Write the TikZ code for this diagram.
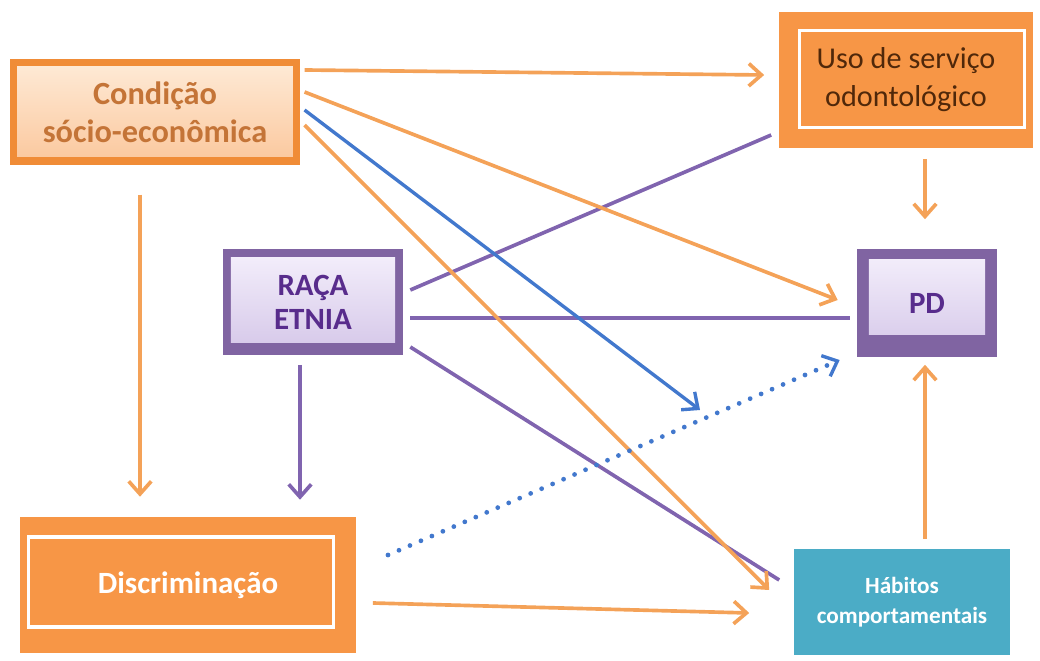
\documentclass[tikz,border=0pt]{standalone}
\usepackage{fontspec}
\setmainfont{Carlito}
\usetikzlibrary{arrows.meta,calc}
\definecolor{lineorange}{RGB}{244,162,88}
\definecolor{boxorange}{RGB}{247,150,70}
\definecolor{edgeorange}{RGB}{240,140,55}
\definecolor{peachtop}{RGB}{254,234,214}
\definecolor{peachbot}{RGB}{251,200,158}
\definecolor{textorange}{RGB}{196,116,55}
\definecolor{textbrown}{RGB}{80,40,10}
\definecolor{racepurple}{RGB}{128,100,162}
\definecolor{linepurple}{RGB}{128,100,175}
\definecolor{lavtop}{RGB}{245,240,252}
\definecolor{lavbot}{RGB}{212,198,232}
\definecolor{textpurple}{RGB}{88,44,140}
\definecolor{linkblue}{RGB}{66,120,205}
\definecolor{habitteal}{RGB}{75,172,198}
\tikzset{
  orangearrow/.style={draw=lineorange, line width=2.6pt, -{Straight Barb[length=9pt,width=16pt]}},
  purpleline/.style={draw=linepurple, line width=2.6pt},
  bluearrow/.style={draw=linkblue, line width=2.4pt, -{Straight Barb[length=9pt,width=16pt]}},
  whiteframe/.style n args={4}{path picture={
    \draw[white, line width=2.2pt]
      ([xshift=#1, yshift=-#2]path picture bounding box.north west) rectangle
      ([xshift=-#3, yshift=#4]path picture bounding box.south east);}},
  lavinner/.style n args={4}{path picture={
    \shade[top color=lavtop, bottom color=lavbot]
      ([xshift=#1, yshift=-#2]path picture bounding box.north west) rectangle
      ([xshift=-#3, yshift=#4]path picture bounding box.south east);}},
  purplebox/.style={fill=racepurple, align=center, text=textpurple,
    font=\bfseries\fontsize{22}{24}\selectfont},
}
\begin{document}
\begin{tikzpicture}[x=0.025cm, y=-0.025cm]
\useasboundingbox (0,0) rectangle (1040,661);
% boxes
\node[draw=edgeorange, line width=5pt, top color=peachtop, bottom color=peachbot,
  minimum width=7.05cm, minimum height=2.45cm, align=center, text=textorange,
  font=\bfseries\fontsize{23}{27}\selectfont] (cond) at (155,112) {Condição\\sócio-econômica};
\node[fill=boxorange, minimum width=6.325cm, minimum height=3.375cm, align=center,
  text=textbrown, font=\fontsize{21.5}{27}\selectfont,
  whiteframe={0.5cm}{0.45cm}{0.2cm}{0.5cm}] (uso) at (906,80) {Uso de serviço\\odontológico};
\node[purplebox, minimum width=4.5cm, minimum height=2.625cm,
  lavinner={0.2cm}{0.2cm}{0.2cm}{0.3cm}] (raca) at (313,302) {RAÇA\\ETNIA};
\node[purplebox, minimum width=3.5cm, minimum height=2.675cm,
  lavinner={0.3cm}{0.25cm}{0.3cm}{0.55cm}] (pd) at (927,303) {PD};
\node[fill=boxorange, minimum width=8.375cm, minimum height=3.4cm, align=center,
  text=white, font=\bfseries\fontsize{22}{24}\selectfont,
  whiteframe={0.2cm}{0.5cm}{0.55cm}{0.65cm}] (disc) at (188,585) {Discriminação};
\node[fill=habitteal, minimum width=5.375cm, minimum height=2.625cm, align=center,
  text=white, font=\bfseries\fontsize{16.5}{21}\selectfont] (hab) at (902,602) {Hábitos\\comportamentais};
\coordinate (blueend) at (700,410);
\coordinate (dotstart) at (388,555);

% purple links
\draw[purpleline] ($(raca.east)+(7,-12)$) -- ($(uso.west)+(-8,55)$);
\draw[purpleline] ($(raca.east)+(7,16)$) -- ($(pd.west)+(-7,15)$);
\draw[purpleline] ($(raca.east)+(7,45)$) -- ($(hab.west)+(-15,-22)$);
\draw[purpleline, -{Straight Barb[length=9pt,width=16pt]}] ($(raca.south)+(-13,10)$) -- ($(disc.north)+(112,-17)$);

% orange links
\draw[orangearrow] ($(cond.east)+(5,-42)$) -- ($(uso.west)+(-15,-5)$);
\draw[orangearrow] ($(cond.east)+(5,-20)$) -- ($(pd.west)+(-19,-3)$);
\draw[orangearrow] ($(cond.east)+(5,13)$) -- ($(hab.west)+(-25,-12)$);
\draw[orangearrow] ($(cond.south)+(-15,30)$) -- ($(disc.north)+(-48,-20)$);
\draw[orangearrow] ($(uso.south)+(19,11)$) -- ($(pd.north)+(-2,-30)$);
\draw[orangearrow] ($(hab.north)+(23,-10)$) -- ($(pd.south)+(-2,8)$);
\draw[orangearrow] ($(disc.east)+(17,18)$) -- ($(hab.west)+(-45,11)$);

% blue links
\draw[bluearrow] ($(cond.east)+(5,-2)$) -- (blueend);
\draw[linkblue, line width=3.4pt, line cap=round, dash pattern=on 0pt off 8.5pt,
  -{Straight Barb[length=9pt,width=16pt,line width=2.4pt]}] (dotstart) -- ($(pd.west)+(-17,57)$);
\end{tikzpicture}
\end{document}
